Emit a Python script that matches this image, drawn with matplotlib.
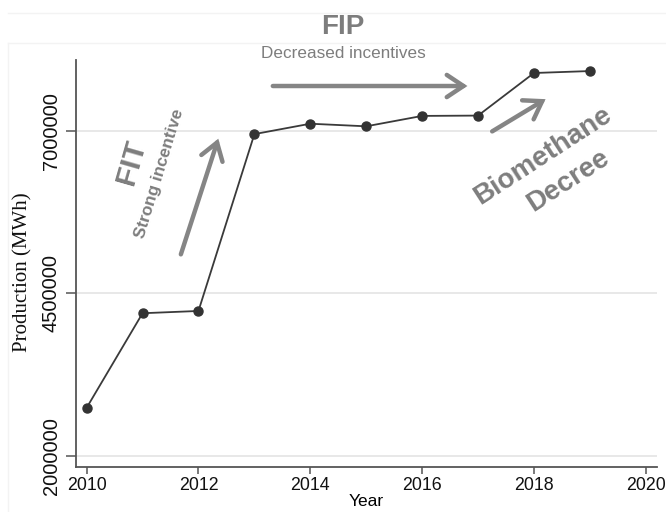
import matplotlib
matplotlib.use("Agg")
import matplotlib.pyplot as plt
from matplotlib.patches import FancyArrowPatch
from matplotlib.lines import Line2D

# ---- data ----
years = [2010, 2011, 2012, 2013, 2014, 2015, 2016, 2017, 2018, 2019]
production = [2740000, 4195000, 4230000, 6950000, 7110000, 7070000,
              7230000, 7235000, 7890000, 7920000]
xticks = [2010, 2012, 2014, 2016, 2018, 2020]
yticks = [2000000, 4500000, 7000000]

narrow = ['Liberation Sans Narrow', 'Liberation Sans', 'DejaVu Sans']
sans = ['Liberation Sans', 'DejaVu Sans']
gray = '#7d7d7d'

fig = plt.figure(figsize=(6.66, 5.12), dpi=100)
ax = fig.add_axes([76/666, 1-467/512, (657-76)/666, (467-60)/512])

ax.plot(years, production, color='#3a3a3a', lw=1.3, marker='o',
        markersize=6.5, markerfacecolor='#333333', markeredgecolor='#333333', zorder=3)

ax.set_xlim(2009.81, 2020.2)
ax.set_ylim(1830000, 8090000)
ax.set_xticks(xticks)
ax.set_yticks(yticks)
ax.set_xticklabels([str(t) for t in xticks], family=narrow, fontsize=12.8)
ax.set_yticklabels([str(t) for t in yticks], family=narrow, fontsize=14.5,
                   rotation=90, va='center')
ax.grid(axis='y', color='#e8e8e8', lw=1.4)
ax.set_axisbelow(True)
for s in ['top', 'right']:
    ax.spines[s].set_visible(False)
for s in ['left', 'bottom']:
    ax.spines[s].set_color('#555555')
    ax.spines[s].set_linewidth(1.3)
ax.tick_params(axis='both', colors='#555555', labelcolor='#111111', width=1.1)
ax.tick_params(axis='y', length=7, pad=4)
ax.tick_params(axis='x', length=5, pad=2)

ax.set_xlabel('Year', family=narrow, fontsize=12.5, labelpad=0)
fig.text(23/666, 1-272/512, 'Production (MWh)', family=['Liberation Serif', 'DejaVu Serif'],
         fontsize=15, rotation=90, ha='center', va='center', color='#111111')

# ---- annotations ----
def arrow(p0, p1):
    a = FancyArrowPatch(p0, p1, arrowstyle='->,head_length=0.6,head_width=0.4',
                        color='#858585', lw=3.2, mutation_scale=20, zorder=2,
                        capstyle='round', joinstyle='miter')
    ax.add_patch(a)

arrow((2013.28, 7690000), (2016.86, 7690000))
arrow((2011.67, 5060000), (2012.37, 6920000))
arrow((2017.21, 6970000), (2018.25, 7510000))

ax.text(2014.59, 8590000, 'FIP', family=sans, fontsize=20, fontweight='bold',
        color=gray, ha='center', va='center', clip_on=False)
ax.text(2014.59, 8190000, 'Decreased incentives', family=sans, fontsize=12.3,
        color=gray, ha='center', va='center', clip_on=False)
ax.text(2010.80, 6520000, 'FIT', family=sans, fontsize=21.5, fontweight='bold',
        color=gray, ha='center', va='center', rotation=74, rotation_mode='anchor')
ax.text(2011.30, 6350000, 'Strong incentive', family=sans, fontsize=12.3, fontweight='bold',
        color=gray, ha='center', va='center', rotation=73, rotation_mode='anchor')
ax.text(2018.16, 6620000, 'Biomethane', family=sans, fontsize=20, fontweight='bold',
        color=gray, ha='center', va='center', rotation=33, rotation_mode='anchor')
ax.text(2018.62, 6230000, 'Decree', family=sans, fontsize=20, fontweight='bold',
        color=gray, ha='center', va='center', rotation=33, rotation_mode='anchor')

# faint outer frame
fc = '#f3f3f3'
fig.add_artist(Line2D([8/666, 1], [1-13/512, 1-13/512], color=fc, lw=1))
fig.add_artist(Line2D([8/666, 1], [1-43/512, 1-43/512], color=fc, lw=1))
fig.add_artist(Line2D([8/666, 8/666], [0, 1-43/512], color=fc, lw=1))

fig.savefig('out.png', dpi=100)
